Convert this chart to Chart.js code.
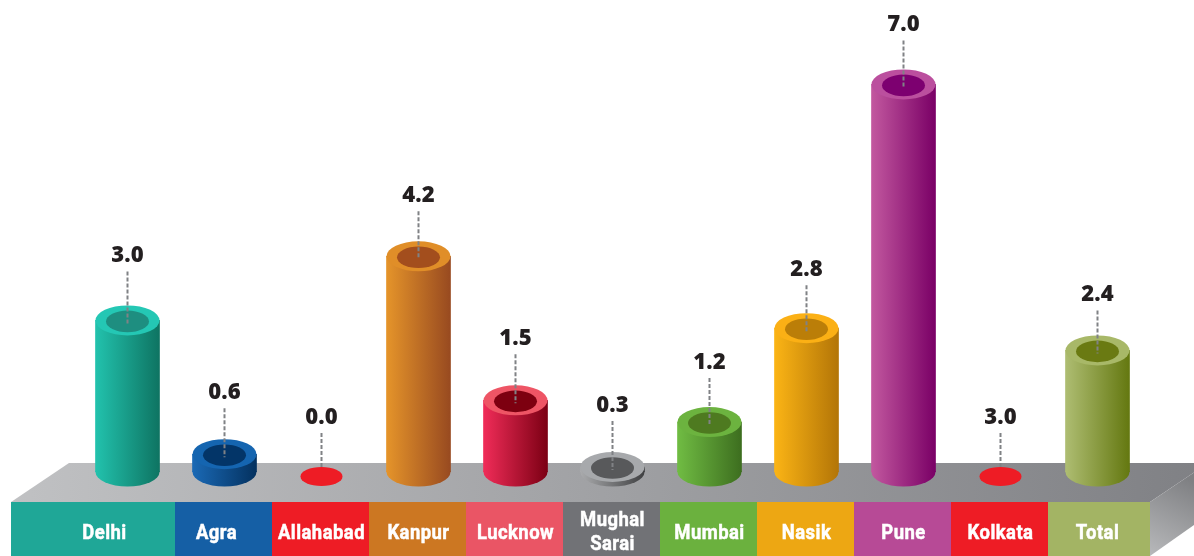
<!DOCTYPE html>
<html><head><meta charset="utf-8">
<style>html,body{margin:0;padding:0;background:#fff;overflow:hidden}canvas{display:block}</style>
<script src="https://cdn.jsdelivr.net/npm/chart.js@4/dist/chart.umd.min.js"></script>
</head><body><canvas id="c" width="1194" height="556"></canvas>
<script>
const categories = ['Delhi','Agra','Allahabad','Kanpur','Lucknow','Mughal Sarai','Mumbai','Nasik','Pune','Kolkata','Total'];
// printed on the picture
const printedValues = ['3.0','0.6','0.0','4.2','1.5','0.3','1.2','2.8','7.0','3.0','2.4'];
// column heights as drawn in the picture, read against the same axis
const barHeights = [2.73,0.32,0,3.885,1.29,0.09,0.90,2.59,6.98,0,2.19];
const bandColors = ['#1fa797','#155fa5','#ee1c25','#cc7722','#ea5565','#717276','#6bb13e','#eda713','#b74a96','#ee1c25','#a3b464'];
const bodyLight = ['#22c2ad','#1a69b5','#ee1c25','#e5942a','#f02c58','#a9aaac','#70bc43','#fbb415','#c2589f','#ee1c25','#aebd72'];
const bodyDark  = ['#0e7462','#04315f','#ee1c25','#984a20','#7c0014','#3f4042','#3d6e1f','#b37507','#7a0066','#ee1c25','#647810'];
const ringColors  = ['#24c7b4','#1565b0','#ee1c25','#e08e28','#ee5565','#a7a9ac','#6cb33f','#fbb015','#bb4f9e','#ee1c25','#a8b868'];
const innerColors = ['#1e8e80','#033568','#ee1c25','#a34e1d','#7d0010','#58595b','#4e7a20','#bb7e08','#7d0070','#ee1c25','#6a7a12'];

const RX = 32, RY = 14.5, IRX = 21.5, IRY = 10.8;
function bodyGradient(ctx, x, i){
  if(!Number.isFinite(x)||!Number.isInteger(i)) return 'rgba(0,0,0,0)';
  if(barHeights[i]===0) return 'rgba(0,0,0,0)';
  const g = ctx.createLinearGradient(x-RX,0,x+RX,0);
  g.addColorStop(0,bodyLight[i]); g.addColorStop(1,bodyDark[i]);
  return g;
}
function narrowText(ctx,text,x,y,sx){
  ctx.save();ctx.translate(x,y);ctx.scale(sx,1);ctx.strokeText(text,0,0);ctx.fillText(text,0,0);ctx.restore();
}
const stage = {
  id:'stage',
  beforeDatasetsDraw(chart){
    const {ctx,scales:{x}} = chart;
    const step = x.getPixelForValue(1)-x.getPixelForValue(0);
    const top=463, front=502, bottom=556, W=chart.width;
    ctx.save();
    // top face
    let g = ctx.createLinearGradient(11,0,1194,0);
    g.addColorStop(0,'#c0c1c3'); g.addColorStop(1,'#808185');
    ctx.fillStyle=g;
    ctx.beginPath();ctx.moveTo(69,top);ctx.lineTo(W,top);ctx.lineTo(W,472.5);ctx.lineTo(1150,front);ctx.lineTo(11,front);ctx.closePath();ctx.fill();
    // side face
    g = ctx.createLinearGradient(1190,480,1150,556);
    g.addColorStop(0,'#7f8083'); g.addColorStop(1,'#b8b9bb');
    ctx.fillStyle=g;
    ctx.beginPath();ctx.moveTo(1150,front);ctx.lineTo(W,472.5);ctx.lineTo(W,525);ctx.lineTo(1150,bottom);ctx.closePath();ctx.fill();
    // front bands
    categories.forEach((c,i)=>{
      const px=x.getPixelForValue(i);
      let l=Math.round(px-step/2)-1, r=Math.round(px+step/2)-1;
      if(i===0) l=11;
      if(i===categories.length-1) r=1150;
      ctx.fillStyle=bandColors[i];
      ctx.fillRect(l,front,r-l,bottom-front);
    });
    // band labels
    ctx.fillStyle='#fff';ctx.strokeStyle='#fff';ctx.lineWidth=0.5;ctx.textAlign='center';ctx.textBaseline='middle';
    ctx.font='bold 21px Roboto';
    ctx.letterSpacing='0.5px';
    const nudge={0:-23,1:-8};
    categories.forEach((c,i)=>{
      const px=x.getPixelForValue(i)+(nudge[i]||0);
      const parts=c==='Mughal Sarai'?['Mughal','Sarai']:[c];
      if(parts.length===2){narrowText(ctx,parts[0],px,521,0.88);narrowText(ctx,parts[1],px,545,0.88);}
      else narrowText(ctx,c,px,534,0.88);
    });
    ctx.restore();
  },
  afterDatasetsDraw(chart){
    const {ctx} = chart;
    const bars = chart.getDatasetMeta(0).data;
    const lift=[65,62,0,61,62,62,60,59,60,0,56];
    ctx.save();
    bars.forEach((b,i)=>{
      const flat = barHeights[i]===0;
      let cy=b.y, labelY, dashA, dashB;
      if(flat){
        ctx.fillStyle=ringColors[i];
        ctx.beginPath();ctx.ellipse(b.x,476.5,21,9.5,0,0,Math.PI*2);ctx.fill();
        labelY=417.5;dashA=433;dashB=467;
      } else {
        ctx.fillStyle=bodyGradient(ctx,b.x,i);
        ctx.beginPath();ctx.moveTo(b.x-RX,b.base-1);ctx.lineTo(b.x+RX,b.base-1);ctx.lineTo(b.x+RX,b.base);
        ctx.ellipse(b.x,b.base,RX,RY,0,0,Math.PI);ctx.closePath();ctx.fill();
        ctx.fillStyle=ringColors[i];
        ctx.beginPath();ctx.ellipse(b.x,cy,RX,RY+0.5,0,0,Math.PI*2);ctx.fill();
        ctx.fillStyle=innerColors[i];
        ctx.beginPath();ctx.ellipse(b.x,cy+1,IRX,IRY,0,0,Math.PI*2);ctx.fill();
        labelY=cy-lift[i];dashA=labelY+16;dashB=cy+3;
      }
      ctx.strokeStyle='#808285';ctx.lineWidth=2;ctx.setLineDash([4,2]);
      ctx.beginPath();ctx.moveTo(b.x,dashA);ctx.lineTo(b.x,dashB);ctx.stroke();
      ctx.setLineDash([]);
      ctx.fillStyle='#231f20';ctx.textAlign='center';ctx.textBaseline='middle';
      ctx.font='800 23px "Open Sans"';
      ctx.letterSpacing='0px';
      ctx.save();ctx.translate(b.x,labelY);ctx.scale(0.96,1);ctx.fillText(printedValues[i],0,0);ctx.restore();
    });
    ctx.restore();
  }
};
new Chart(document.getElementById('c'),{
  type:'bar',
  data:{labels:categories,datasets:[{
    data:barHeights,
    barThickness:64,
    borderWidth:0,
    backgroundColor:c=>bodyGradient(c.chart.ctx,c.chart.scales.x.getPixelForValue(c.dataIndex),c.dataIndex)
  }]},
  options:{
    responsive:false,animation:false,devicePixelRatio:1,
    layout:{padding:{left:79,right:48,top:0,bottom:84}},
    plugins:{legend:{display:false},tooltip:{enabled:false}},
    scales:{
      x:{display:false,grid:{display:false}},
      y:{display:false,min:0,max:8.5,grid:{display:false}}
    }
  },
  plugins:[stage]
});
</script></body></html>
